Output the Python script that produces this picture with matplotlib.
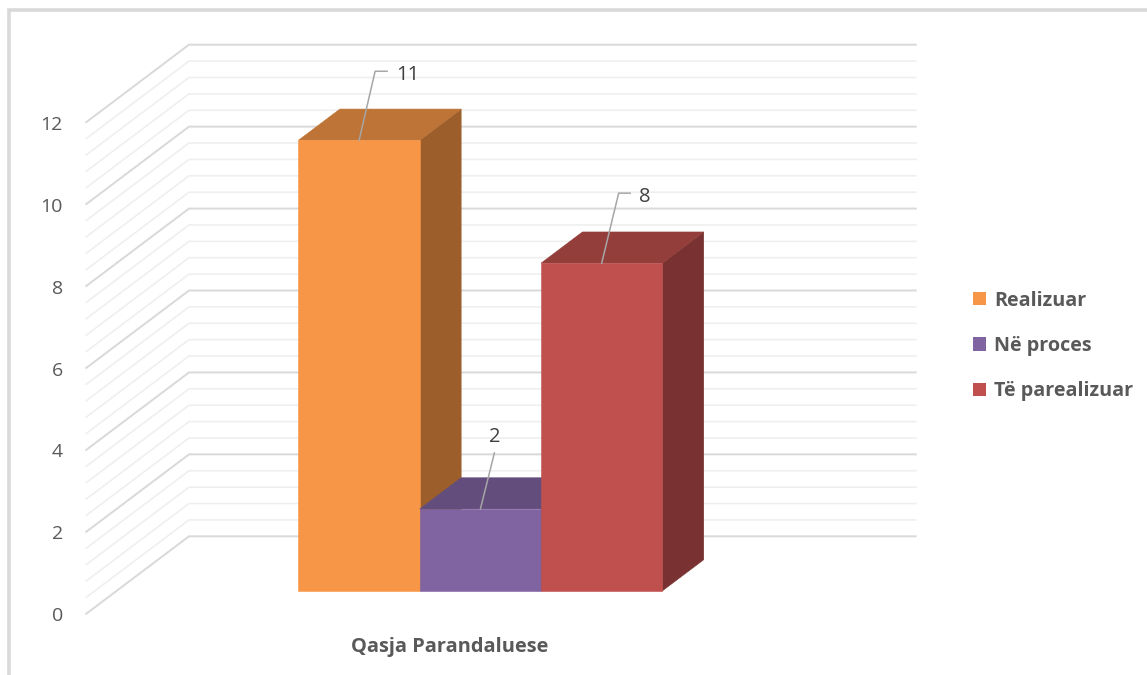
import numpy as np
import matplotlib
matplotlib.use('Agg')
import matplotlib.pyplot as plt
from matplotlib.patches import Polygon, Patch
from matplotlib.lines import Line2D
import matplotlib.transforms as mtransforms
import matplotlib.colors as mcolors

# ---- data ----
categories = ['Qasja Parandaluese']
series = ['Realizuar', 'Në proces', 'Të parealizuar']
values = [11, 2, 8]
yticks = [0, 2, 4, 6, 8, 10, 12]

# ---- style ----
colors = ['#F79646', '#8064A2', '#C0504D']
TOP_SHADE, SIDE_SHADE = 0.77, 0.63
TEXT = '#595959'
plt.rcParams['font.family'] = ['Open Sans', 'DejaVu Sans']

W, H = 1147, 675
fig = plt.figure(figsize=(W / 100, H / 100), dpi=100)

# front plane of the 3D box in pixels
left_px, right_px = 85.5, 813.2
y0_px, ytop_px = 614.3, 122.7
ax = fig.add_axes([left_px / W, 1 - y0_px / H, (right_px - left_px) / W, (y0_px - ytop_px) / H])
ymax = yticks[-1]
ax.set_xlim(-0.5, 0.5)
ax.set_ylim(0, ymax)
for s in ax.spines.values():
    s.set_visible(False)
ax.tick_params(length=0)

px_per_x = (right_px - left_px)
px_per_v = (y0_px - ytop_px) / ymax
DX = 103.5 / px_per_x
DY = 78.0 / px_per_v


def proj(x, v, d):
    return (x + d * DX, v + d * DY)


# ---- walls: gridlines ----
for k, v in enumerate(np.arange(0, ymax + 1e-9, 0.4)):
    major = (k % 5 == 0)
    pts = [proj(-0.5, v, 0), proj(-0.5, v, 1), proj(0.5, v, 1)]
    ax.plot([p[0] for p in pts], [p[1] for p in pts],
            color='#d9d9d9' if major else '#efefef',
            lw=1.4 if major else 1.2, clip_on=False, zorder=1,
            solid_joinstyle='miter', solid_capstyle='butt')

# ---- bars ----
group_w = 0.5
bw = group_w / len(values)
d0, d1 = 0.3, 0.7


def shade(c, f):
    r, g, b = mcolors.to_rgb(c)
    return (r * f, g * f, b * f)


bar_tops = []
for i, (v, c) in enumerate(zip(values, colors)):
    xl = -group_w / 2 + i * bw
    xr = xl + bw
    side = [proj(xr, 0, d0), proj(xr, 0, d1), proj(xr, v, d1), proj(xr, v, d0)]
    top = [proj(xl, v, d0), proj(xr, v, d0), proj(xr, v, d1), proj(xl, v, d1)]
    front = [proj(xl, 0, d0), proj(xr, 0, d0), proj(xr, v, d0), proj(xl, v, d0)]
    for poly, col in ((side, shade(c, SIDE_SHADE)), (top, shade(c, TOP_SHADE)), (front, c)):
        ax.add_patch(Polygon(poly, closed=True, facecolor=col, edgecolor=col,
                             lw=0.4, clip_on=False, zorder=3 + i))
    bar_tops.append(proj((xl + xr) / 2, v, d0))

# ---- data labels with leader lines (pixel offsets) ----
leaders = [[(0, 0), (16, 69), (28, 69)],
           [(0, 0), (14, 56)],
           [(0, 0), (17, 70), (28.5, 70)]]
label_pos = [((37, 60.5), 'left'), ((14, 67.3), 'center'), ((37, 61.5), 'left')]
for i, v in enumerate(values):
    base = np.array(ax.transData.transform(bar_tops[i]))
    verts = base + np.array(leaders[i], dtype=float)
    fig.add_artist(Line2D(verts[:, 0], verts[:, 1], transform=mtransforms.IdentityTransform(),
                          color='#a6a6a6', lw=1.1, zorder=20))
    (dx, dy), ha = label_pos[i]
    ax.annotate(str(v), xy=bar_tops[i], xytext=(dx, dy), textcoords='offset pixels',
                ha=ha, va='baseline', fontsize=14.5, color='#404040', zorder=21,
                annotation_clip=False)

# ---- axes ticks ----
ax.set_yticks(yticks)
ax.set_yticklabels([str(t) for t in yticks])
ax.tick_params(axis='y', pad=16.2, labelsize=14, labelcolor=TEXT)
ax.set_xticks([0])
ax.set_xticklabels(categories, fontweight='bold')
ax.tick_params(axis='x', pad=26.9, labelsize=14.4, labelcolor=TEXT)
for lab in ax.get_xticklabels():
    lab.set_va('baseline')
ax.set_facecolor('none')

# ---- legend ----
handles = [Patch(facecolor=c, edgecolor='none') for c in colors]
fig.legend(handles, series, loc='center left', bbox_to_anchor=(973 / W, 1 - 346 / H),
           frameon=False, borderpad=0, borderaxespad=0, handlelength=0.66,
           handleheight=0.66, handletextpad=0.42, labelspacing=1.29,
           prop={'weight': 'bold', 'size': 14.2}, labelcolor=TEXT)

# ---- chart area border (partly visible) ----
fig.add_artist(Line2D([9 / W, 9 / W, 1.0], [0.0, 1 - 9.5 / H, 1 - 9.5 / H],
                      transform=fig.transFigure, color='#d9d9d9', lw=2.6,
                      solid_joinstyle='miter'))

fig.savefig('out.png', dpi=100)
